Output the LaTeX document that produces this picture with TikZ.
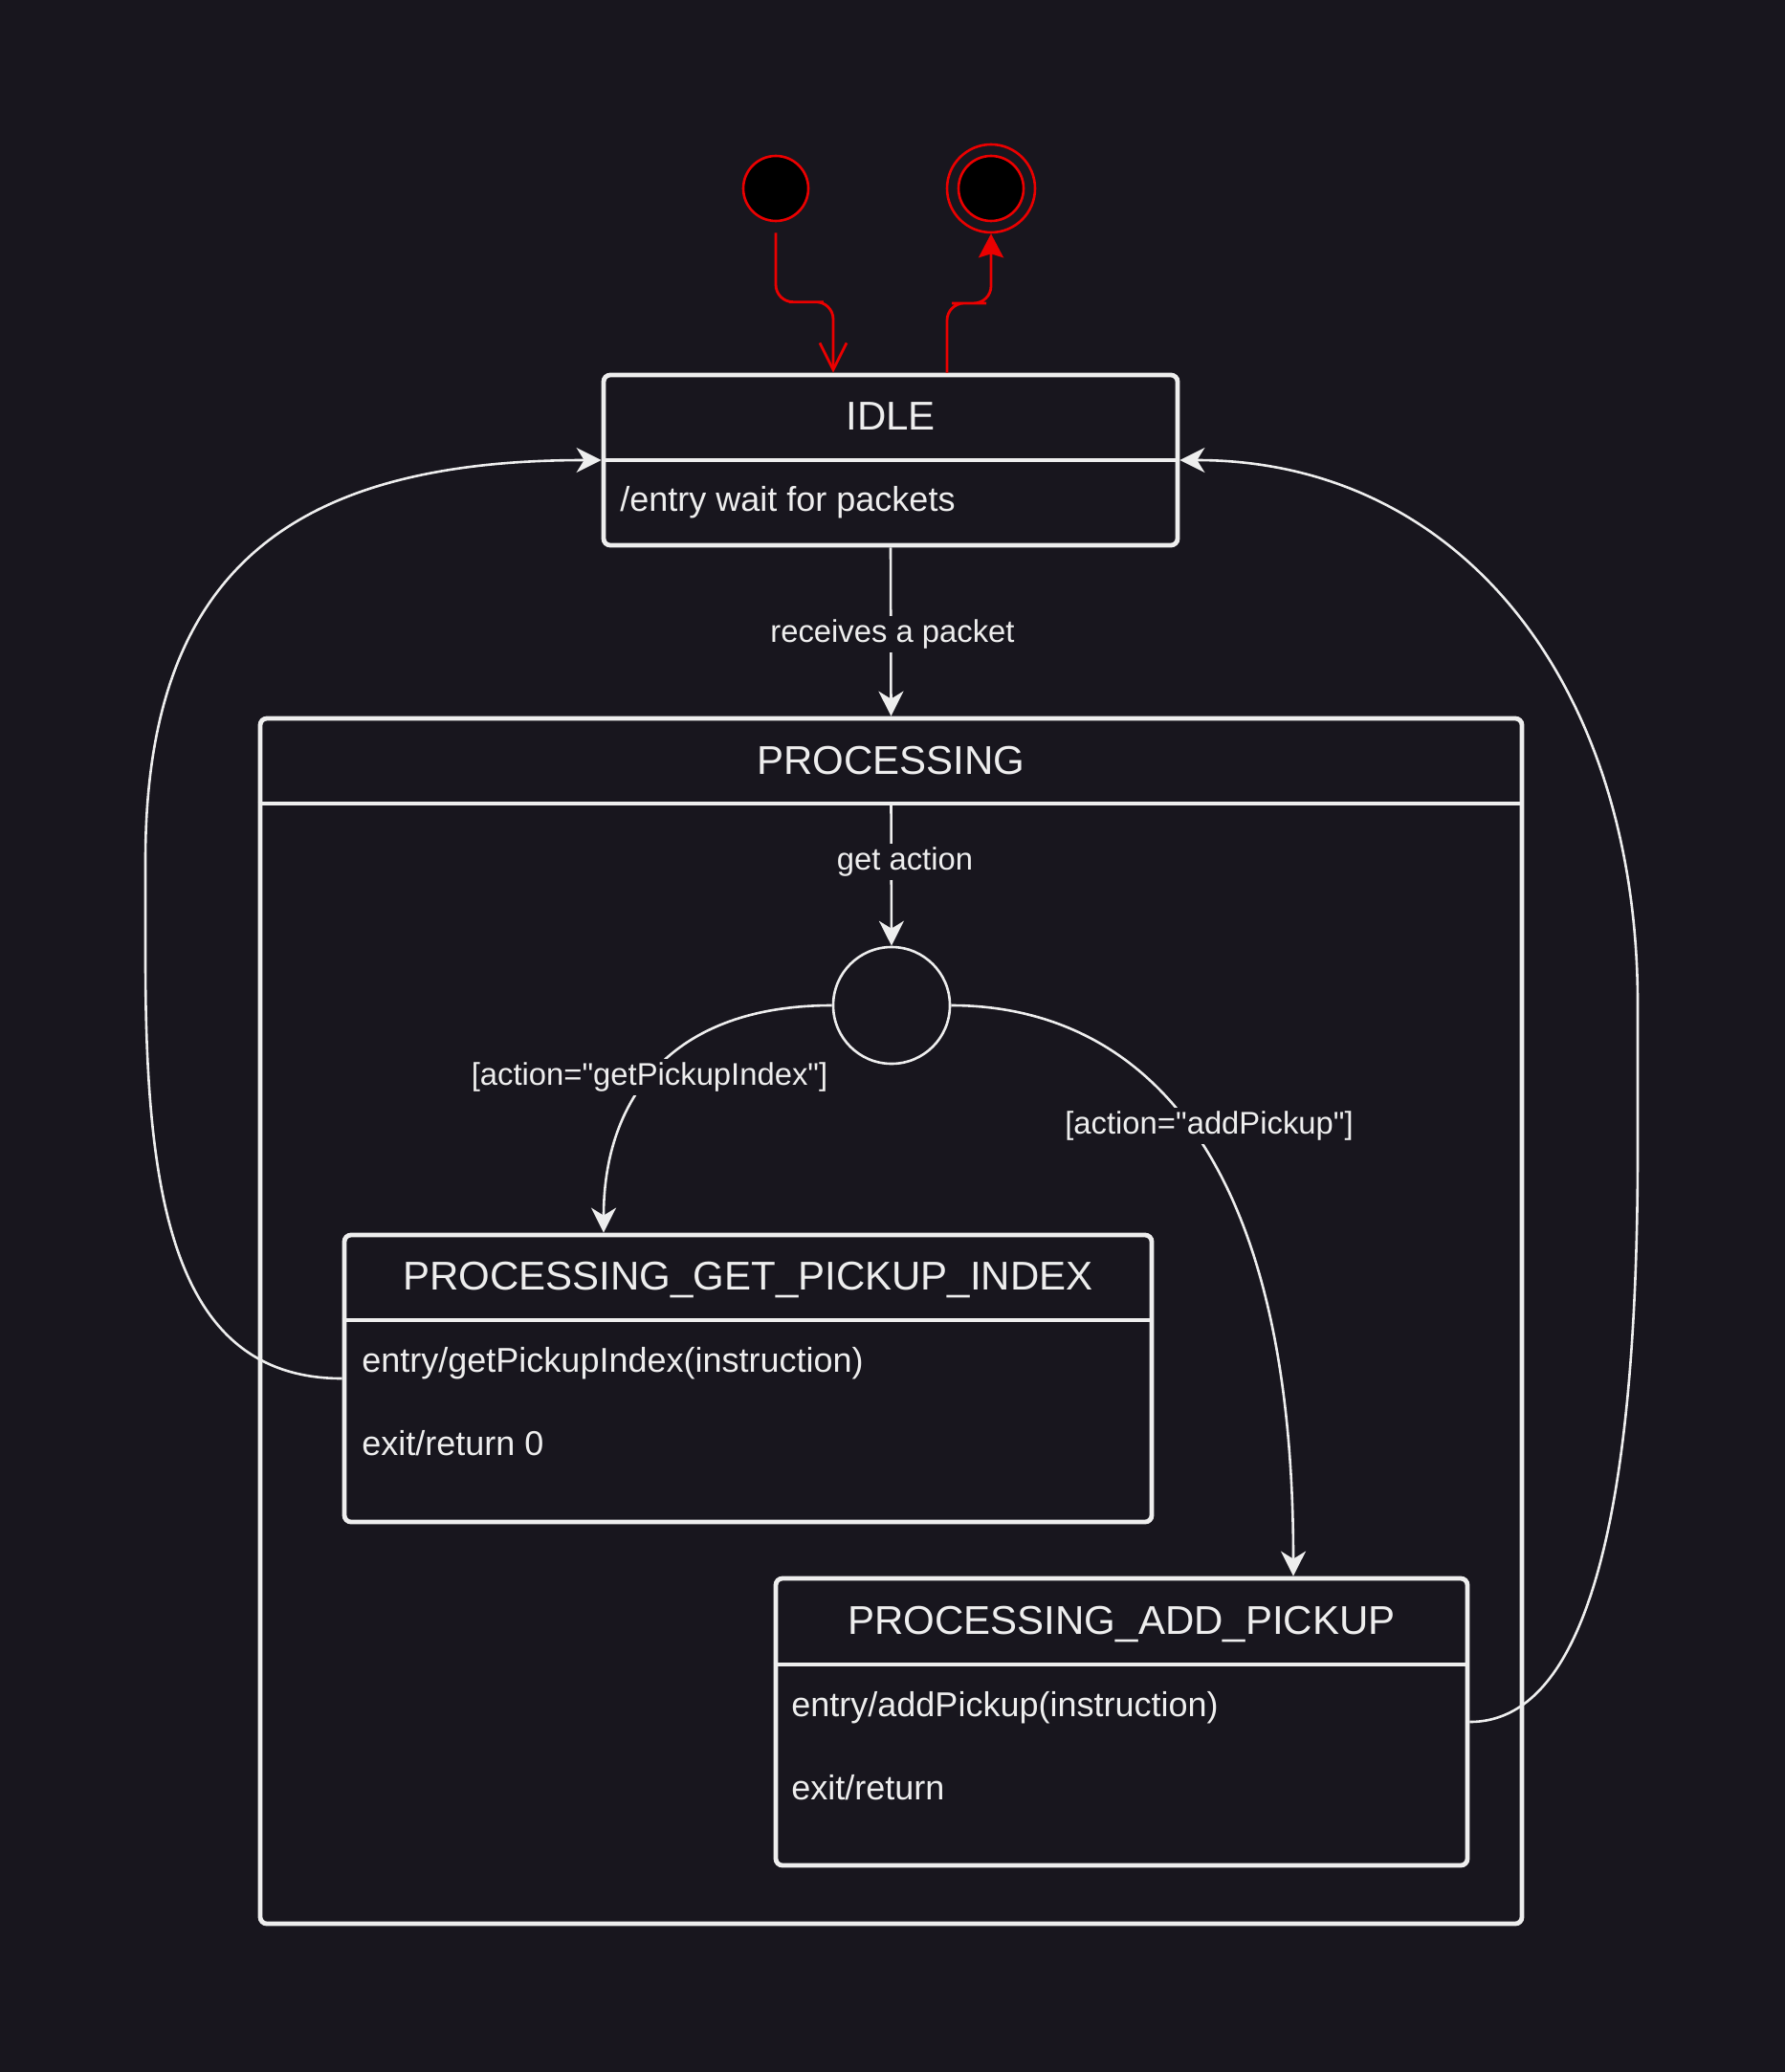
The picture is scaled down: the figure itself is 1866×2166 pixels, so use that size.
\documentclass[tikz,border=0pt]{standalone}
\usepackage{fontspec}
\setmainfont{Liberation Sans}
\newfontfamily\plainf{Liberation Sans}
\usetikzlibrary{arrows.meta,calc}
\definecolor{bgc}{RGB}{24,22,30}
\definecolor{fg}{RGB}{238,238,238}
\definecolor{redc}{RGB}{235,0,0}
\begin{document}
\begin{tikzpicture}[x=0.5pt,y=-0.5pt,
  statebox/.style={draw=fg, line width=2.4pt, rounded corners=3.5pt, fill=bgc, inner sep=0pt},
  divline/.style={draw=fg, line width=2.4pt},
  titletext/.style={text=fg, font=\plainf\fontsize{21}{25}\selectfont, inner sep=0pt},
  bodytext/.style={text=fg, font=\plainf\fontsize{18}{22}\selectfont, inner sep=0pt, anchor=west},
  lbl/.style={text=fg, font=\plainf\fontsize{16.4}{20}\selectfont, fill=bgc, inner sep=2pt},
  conn/.style={draw=fg, line width=1.3pt, -{Stealth[length=13pt,width=13pt,inset=4pt]}},
  redline/.style={draw=redc, line width=1.4pt},
  pseudo/.style={circle, draw=redc, line width=1.3pt, fill=black, inner sep=0pt, minimum size=34pt},
]
\fill[bgc] (0,0) rectangle (1866,2166);
\useasboundingbox (0,0) rectangle (1866,2166);

% pseudo states
\node[pseudo] (init) at (811,197) {};
\node[circle, draw=redc, line width=1.3pt, fill=bgc, inner sep=0pt, minimum size=46pt] (finalo) at (1036,197) {};
\node[pseudo] (final) at (1036,197) {};

% IDLE
\node[statebox, minimum width=300pt, minimum height=89pt] (idle) at (931,481) {};
\draw[divline] (idle.west) -- (idle.east);
\node[titletext] (idlet) at (931,435) {IDLE};
\node[bodytext] (idleb) at (648,525) {/entry wait for packets};

% PROCESSING
\node[statebox, minimum width=659.5pt, minimum height=630pt] (proc) at (931.5,1381) {};
\coordinate (procdiv) at (931.5,840);
\draw[divline] (proc.west |- procdiv) -- (proc.east |- procdiv);
\node[titletext] (proct) at (931.5,795) {PROCESSING};

% choice
\node[circle, draw=fg, line width=1.3pt, fill=bgc, inner sep=0pt, minimum size=61pt] (choice) at (932,1051) {};

% PROCESSING_GET_PICKUP_INDEX
\node[statebox, minimum width=422pt, minimum height=150pt] (pgpi) at (782,1441) {};
\coordinate (pgdiv) at (782,1380);
\draw[divline] (pgpi.west |- pgdiv) -- (pgpi.east |- pgdiv);
\node[titletext] (pgpit) at (782,1338) {PROCESSING\_GET\_PICKUP\_INDEX};
\node[bodytext] (pgpib1) at (378,1425) {entry/getPickupIndex(instruction)};
\node[bodytext] (pgpib2) at (378,1509) {exit/return 0};

% PROCESSING_ADD_PICKUP
\node[statebox, minimum width=361.5pt, minimum height=150pt] (pap) at (1172.5,1800) {};
\coordinate (papdiv) at (1172.5,1740);
\draw[divline] (pap.west |- papdiv) -- (pap.east |- papdiv);
\node[titletext] (papt) at (1172.5,1698) {PROCESSING\_ADD\_PICKUP};
\node[bodytext] (papb1) at (827,1785) {entry/addPickup(instruction)};
\node[bodytext] (papb2) at (827,1869) {exit/return};

% red transitions
\draw[redline, rounded corners=9pt, shorten <=5.5pt, -{Straight Barb[length=14pt,width=14pt]}]
  (init.south) |- ($(init.south)!0.53!([xshift=-30pt]idle.north)$) -| ([xshift=-30pt]idle.north);
\draw[redline, rounded corners=9pt, -{Stealth[length=12.5pt,width=13pt,inset=2pt]}]
  ([xshift=29.5pt]idle.north) |- ($([xshift=29.5pt]idle.north)!0.5!(finalo.south)$) -| (finalo.south);

% transitions
\draw[conn] (idle.south) -- (proc.north);
\node[lbl] (l1) at (933,663) {receives a packet};
\draw[conn] (procdiv) -- (choice.north);
\node[lbl] (l2) at (946,901) {get action};

\draw[conn] (choice.west) .. controls (700,1051) and (631,1150) .. ([xshift=-75.5pt]pgpi.north);
\node[lbl] (l3) at (679,1126) {[action="getPickupIndex"]};
\draw[conn] (choice.east) .. controls (1150,1051) and (1352,1150) .. ([xshift=89.75pt]pap.north);
\node[lbl] (l4) at (1264,1177) {[action="addPickup"]};

\draw[conn] (pgpi.west) .. controls (180,1441) and (152,1250) .. (152,1000) -- (152,900)
  .. controls (152,600) and (300,481) .. (idle.west);
\draw[conn] (pap.east) .. controls (1680,1800) and (1712,1500) .. (1712,1200) -- (1712,1050)
  .. controls (1712,720) and (1530,481) .. (idle.east);
\end{tikzpicture}
\end{document}
